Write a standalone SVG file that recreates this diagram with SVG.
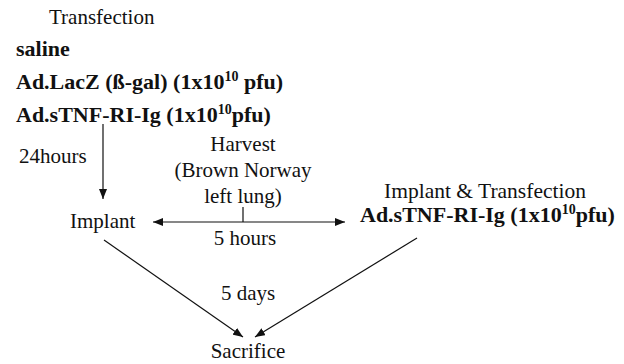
<svg xmlns="http://www.w3.org/2000/svg" width="624" height="364" viewBox="0 0 624 364">
<style>
text{font-family:"Liberation Serif","Times New Roman",serif;font-size:21px;fill:#111}
.b{font-weight:bold;font-size:22px}
.m{text-anchor:middle}
.sup{font-size:14px}
.ln{stroke:#111;stroke-width:1.2;fill:none}
</style>
<defs>
<marker id="ah" viewBox="0 0 10 8" refX="10" refY="4" markerWidth="10" markerHeight="8" markerUnits="userSpaceOnUse" orient="auto-start-reverse">
<path d="M0,0 L10,4 L0,8 z" fill="#111"/>
</marker>
</defs>
<rect width="624" height="364" fill="#fff"/>
<g id="transfection">
<text x="49" y="24">Transfection</text>
<text class="b" x="16" y="56">saline</text>
<text class="b" x="16" y="89">Ad.LacZ (ß-gal) (1x10<tspan class="sup" dy="-8">10</tspan><tspan dy="8"> pfu)</tspan></text>
<text class="b" x="16" y="122">Ad.sTNF-RI-Ig (1x10<tspan class="sup" dy="-8">10</tspan><tspan dy="8">pfu)</tspan></text>
</g>
<g id="implant"><text x="70" y="228">Implant</text></g>
<g id="harvest">
<text class="m" x="243" y="151">Harvest</text>
<text class="m" x="243" y="177">(Brown Norway</text>
<text class="m" x="243" y="203">left lung)</text>
</g>
<g id="implant-transfection">
<text class="m" x="485" y="198" style="font-size:21.5px">Implant &amp; Transfection</text>
<text class="b" x="360" y="222">Ad.sTNF-RI-Ig (1x10<tspan class="sup" dy="-8">10</tspan><tspan dy="8">pfu)</tspan></text>
</g>
<g id="sacrifice"><text class="m" x="248" y="358">Sacrifice</text></g>
<g id="connectors">
<line class="ln" x1="103" y1="124" x2="103" y2="199" marker-end="url(#ah)"/>
<text x="19" y="163">24hours</text>
<line class="ln" x1="153" y1="222" x2="345" y2="222" marker-start="url(#ah)" marker-end="url(#ah)"/>
<line class="ln" x1="243" y1="207" x2="243" y2="222"/>
<text class="m" x="245" y="245">5 hours</text>
<line class="ln" x1="104" y1="240" x2="243" y2="337" marker-end="url(#ah)"/>
<line class="ln" x1="417" y1="238" x2="255" y2="337" marker-end="url(#ah)"/>
<text class="m" x="248" y="300">5 days</text>
</g>
</svg>
